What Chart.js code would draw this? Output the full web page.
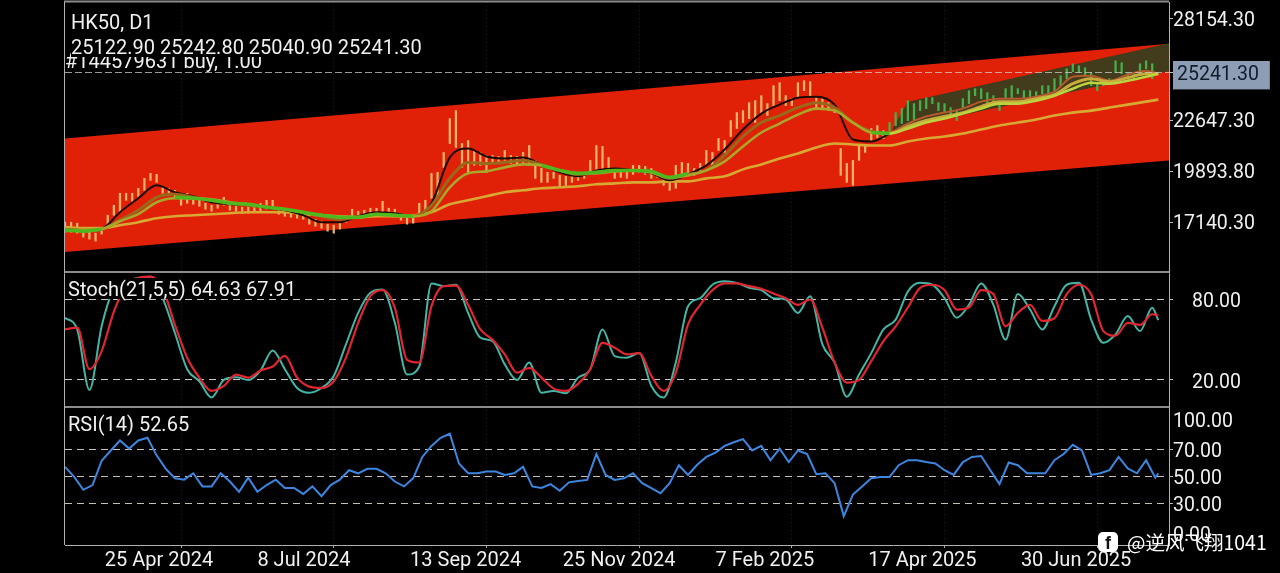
<!DOCTYPE html>
<html>
<head>
<meta charset="utf-8">
<title>HK50, D1</title>
<script src="https://cdn.jsdelivr.net/npm/chart.js@4"></script>
<style>
  html, body { margin: 0; background: #000; overflow: hidden; }
  #wrap { position: relative; width: 1280px; height: 573px; font-family: Roboto, sans-serif; color: #f0f0f0; }
  canvas { position: absolute; left: 0; top: 0; }
  .lbl { position: absolute; font-size: 20px; line-height: 23px; white-space: nowrap; }
  #mark { position: absolute; left: 1098px; top: 527px; display: flex; align-items: center; color: #fff; font-size: 19.5px; font-family: "Noto Sans CJK SC", Roboto, sans-serif; white-space: nowrap; }
  #mark b { width: 20px; height: 20px; border-radius: 5px; background: #fff; color: #111; font: bold 18px/23px "Liberation Sans", sans-serif; text-align: center; margin-right: 9px; overflow: hidden; }
</style>
</head>
<body>
<div id="wrap">
  <canvas id="chart" width="1280" height="573"></canvas>
  <div class="lbl" style="left:65px;top:50px">#144579631 buy, 1.00</div>
  <div class="lbl" style="left:71px;top:11px">HK50, D1</div>
  <div class="lbl" style="left:71px;top:36px;width:355px;height:21px;background:#000">25122.90 25242.80 25040.90 25241.30</div>
  <div class="lbl" style="left:65px;top:278px;width:233px;height:21px;background:#000;padding-left:3px;box-sizing:border-box">Stoch(21,5,5) 64.63 67.91</div>
  <div class="lbl" style="left:68px;top:413px">RSI(14) 52.65</div>
  <div id="mark"><b>f</b><span>@逆风飞翔1041</span></div>
</div>
<script>
const priceTicks = [28154.30, 25241.30, 22647.30, 19893.80, 17140.30];
const currentPrice = 25241.30;
const stochTicks = [80, 20];
const rsiTicks = [92.2, 70, 50, 30, 7.8];
const rsiTickLabels = ['100.00', '70.00', '50.00', '30.00', '0.00'];
const dateTickBars = [13, 63, 113, 163, 213, 263, 313];
const dateTickLabels = ['25 Apr 2024', '8 Jul 2024', '13 Sep 2024', '25 Nov 2024', '7 Feb 2025', '17 Apr 2025', '30 Jun 2025'];

// channels, [start bar, end bar]
const redBars = [0, 361.5];
const redUpper = [21674, 26804];
const redLower = [15518, 20486];
const darkBars = [271, 276, 361.5];
const darkUpper = [22214, 23672, 26831];
const darkLower = [22106, 22322, 25319];

const candleHigh = [17138,17138,17084,16598,16598,16544,16814,17516,18056,18704,18704,18704,18974,19514,19784,19730,19082,18974,18866,18596,
  18704,18434,18326,18164,18056,18326,18488,18056,18056,17948,18002,17948,18164,18326,18326,17894,17786,17678,17624,17570,
  17354,17300,17192,17030,16976,17138,17462,17840,17732,17786,17894,17894,18272,17894,17840,17570,17462,17462,18164,18326,
  19784,19838,20918,22754,23186,21404,21566,21026,20918,20756,20756,20702,21026,20756,20702,20918,21296,20486,20054,19838,
  19838,19676,19622,19676,19784,19838,20486,21296,21242,20648,20054,19946,19838,20216,20216,20162,20054,19838,19568,19298,
  20216,20378,20324,20054,20324,21026,20918,21674,21566,22646,23078,23186,23618,23726,23996,23564,24536,24698,23996,23834,
  24698,24806,24752,23888,23834,23618,23456,21134,20324,20486,21296,21296,22214,22376,22106,22538,23078,23294,23726,23564,
  23726,23888,23888,23618,23564,23348,23186,23834,24266,24374,24374,24158,23996,23564,24374,24536,24374,24266,24266,24212,
  24536,24536,24914,25076,25454,25724,25616,25508,25238,24698,24806,24914,25886,25778,25238,25238,25724,25886,25724];
const candleLow = [16598,16598,16544,16328,16220,16112,16490,17030,17516,17678,18326,18272,18542,18866,19406,19298,18704,18596,18488,18056,
  18164,18110,18002,17840,17732,17894,18056,17786,17732,17624,17624,17678,17678,17840,17894,17570,17462,17408,17354,17300,
  17030,16922,16814,16652,16544,16760,17138,17462,17408,17408,17516,17570,17624,17678,17570,17246,17030,17084,17570,17786,
  18434,18434,20108,21404,21188,20108,19838,20216,20216,19838,20378,20324,20486,20324,20270,20378,20216,19514,19298,19298,
  19514,19082,19082,19298,19406,19514,19784,19946,19838,19946,19514,19568,19514,19730,19838,19730,19514,19568,19136,18866,
  18974,19568,19676,19676,19784,20216,20216,21026,20918,21782,22214,22538,22754,22538,23024,22916,23456,23726,23456,23456,
  23888,24266,23888,23348,23294,23186,23078,19676,19298,19136,20486,20918,21566,21728,21674,21998,22376,22484,22646,22646,
  23186,23294,23564,23186,23078,22862,22646,23348,23564,23996,23834,23618,23510,23186,23834,23888,24104,23888,23726,23888,
  24104,24158,24266,24536,24914,25292,25238,25076,24536,24266,24536,24590,25238,25184,24914,24914,25346,25454,24914];

// moving averages, one value every 6 bars
const fastMA = [16760,16652,16760,17678,18434,19136,18758,18542,18218,18110,18056,17894,17786,17516,17138,17138,17462,17678,17624,17462,
  18164,20648,21134,20702,20594,20648,20270,19838,19622,19946,20054,19946,19784,19406,19730,20216,21080,22160,23024,23510,
  23888,23942,23510,21620,21512,21944,22484,22862,23078,23294,23672,23834,23834,23942,24212,25022,25076,24806,25130,25346,25184];
const midMA = [16760,16706,16760,17246,17786,18488,18650,18488,18326,18164,18056,17948,17840,17678,17462,17300,17408,17570,17516,17462,
  18056,19514,20378,20324,20378,20486,20270,19946,19730,19838,19946,19946,19838,19514,19730,19946,20756,21782,22538,22916,
  23348,23618,23348,22538,22052,21944,22322,22646,22862,23078,23402,23672,23672,23834,24050,24644,24914,24752,24968,25184,25184];
const slowMA = [16706,16706,16760,17192,17570,18218,18434,18434,18380,18218,18110,17948,17840,17678,17516,17408,17408,17570,17462,17462,
  17732,19028,19784,19892,20108,20270,20216,19946,19784,19784,19892,19946,19838,19568,19676,19946,20432,21242,21998,22484,
  22970,23294,23186,22538,21998,21944,22214,22538,22754,23024,23294,23564,23564,23726,23996,24374,24698,24644,24806,25022,25184];
const longMA = [16868,16814,16814,16976,17138,17354,17462,17516,17570,17624,17678,17678,17678,17570,17516,17462,17408,17462,17462,17516,
  17678,18110,18326,18542,18758,18866,18974,19028,19082,19190,19244,19298,19298,19352,19352,19514,19622,20000,20270,20594,
  20864,21188,21404,21350,21296,21296,21512,21674,21782,21944,22160,22376,22538,22700,22916,23078,23186,23348,23510,23672,23780];
const greenMA = [16706,16652,16760,null,null,null,18488,18434,18326,18164,18110,17948,17840,17678,17516,17408,17408,17570,17516,17462,
  null,null,null,null,null,null,20216,19946,19784,19838,19946,19946,19892,19568,19784,null,null,null,null,null,
  null,null,null,null,21998,21944,null,null,null,null,null,null,null,null,null,null,null,null,null,null,null];

// stochastic, one value every 4 bars plus the last bar
const stochK = [66.4,57.7,12.5,60,88,94,96,97,81,55,28,19,6.8,20,22,20,27,42,28,14,
  10.5,14,23,46.5,70,85,87.4,62.6,24,30,92,90,91,70,51.5,49,31.6,20,33,10.5,
  11.8,10,21.7,28,57.7,37.8,36.6,40,15.5,6.8,33,75,81,91,93.6,92.4,88.7,87,81,80,
  70,82.5,46.5,33,7.5,24,40,57.7,65,86,92.4,91,81,66.4,76,92,76,50,84,72.5,
  57.7,75,91,92.4,65,47.7,54,67.6,56.4,73.8,64.63];
const stochD = [57.7,59,28,41.5,71,90,96,97,88,61,36.6,21.7,11.8,15.5,24,21.7,27,30,38,21.7,
  15,14,19,36.6,62.6,82.5,87,73.8,35,33,75,90,90.4,76,57.7,50,39,25.4,29,21.7,
  13.5,11.8,17,28,47.7,44,39,40,23,11.8,25.4,61.4,76,87,92,92,90,88,84.5,81,
  76,80,59,33,18,20,34,49,60,74,88.7,91,87,72.5,74,87,84,60,70,76,
  64,66,84,91,84,56.4,53,62.6,61,69,67.91];

// RSI, one value every 3 bars plus the last bar
const rsiValues = [57.5,50,40.5,44,62,69.6,77,71,77,79,66,56,49,48,52.7,43,43,52.7,46.6,39,
  49.5,39,44,48,41.8,41.8,37.4,43,35.7,44,48,55,52.7,56,56,52.7,46.6,43,49,64.8,
  73,79,82,60,52.7,52.7,54,54,51.5,52.7,57.5,43,41.8,44.7,39.8,46,47,47.8,67,51.5,
  47.8,49,52.7,45.4,41.8,38,45.4,58.7,51.5,59,64.8,68,73,75.7,78,69.6,73,62.4,71,61,
  69.6,67,52,52.7,45.4,21,37,43,49,50,50,58.7,62.4,62.4,61,60,55,51.5,61,64.8,
  65.5,55,44.7,60.7,58.7,52.7,52.7,52.7,62.4,67,73.8,69.6,51.5,52.7,55,64.8,56.3,52.7,62.4,49.5,52.65];

const DARK_START = 270;
const LAST_BAR = 358;
const barsFor = (vals, step) => vals.map((_, i) => (i === vals.length - 1 ? LAST_BAR : i * step));
const pts = (xs, ys) => xs.map((x, i) => ({ x, y: ys[i] }));

// lines change tint where they cross the dark channel
const line = (label, xs, ys, axis, color, width, order, darkColor, smooth = true) => ({
  type: 'line', label, data: pts(xs, ys), yAxisID: axis, borderColor: color, borderWidth: width, order,
  pointRadius: 0, cubicInterpolationMode: smooth ? 'monotone' : 'default',
  segment: darkColor ? { borderColor: ctx => (ctx.p0.parsed.x >= DARK_START ? darkColor : undefined) } : undefined,
});
const band = (label, xs, ys, color, order, fill) => ({
  type: 'line', label, data: pts(xs, ys), yAxisID: 'yPrice', borderWidth: 0, pointRadius: 0,
  backgroundColor: color, fill, order,
});

const datasets = [
  band('Channel top', redBars, redUpper, '#e02108', 100, '+1'),
  band('Channel bottom', redBars, redLower, '#e02108', 100, false),
  band('Trend top', darkBars, darkUpper, '#423c1c', 90, '+1'),
  band('Trend bottom', darkBars, darkLower, '#423c1c', 90, false),
  {
    type: 'bar', label: 'HK50', yAxisID: 'yPrice', order: 50, barThickness: 1.6,
    data: candleHigh.map((h, i) => ({ x: i * 2, y: [candleLow[i], h] })),
    backgroundColor: ctx => (ctx.raw && ctx.raw.x >= DARK_START ? '#46b04a' : '#efb26a'),
  },
  line('MA long', barsFor(longMA, 6), longMA, 'yPrice', '#d9a833', 2.6, 40),
  line('MA fast', barsFor(fastMA, 6), fastMA, 'yPrice', '#1c0a06', 2, 30, '#b5592c'),
  line('MA mid', barsFor(midMA, 6), midMA, 'yPrice', '#98691b', 3, 25, '#c9aa3c'),
  line('MA slow', barsFor(slowMA, 6), slowMA, 'yPrice', '#a8a72a', 2.6, 20, '#bcd23e'),
  line('MA green', barsFor(greenMA, 6), greenMA, 'yPrice', '#4fb81f', 3.5, 15),
  line('Stoch K', barsFor(stochK, 4), stochK, 'yStoch', '#45b5a5', 2, 11),
  line('Stoch D', barsFor(stochD, 4), stochD, 'yStoch', '#e0262e', 2.2, 10),
  line('RSI', barsFor(rsiValues, 3), rsiValues, 'yRsi', '#3d86e0', 2, 10, null, false),
];

const tickFont = { family: 'Roboto', size: 19.5 };
const fixTicks = vals => axis => { axis.ticks = vals.map(value => ({ value })); };
const gutter = axis => { axis.width = 111; axis.paddingTop = 0; axis.paddingBottom = 0; };

// the broker draws its axis labels a little lower than Chart.js centres them
const nudgeLabels = {
  id: 'nudgeLabels',
  beforeDraw(chart) {
    [['yPrice', 2], ['yStoch', 3], ['yRsi', 2]].forEach(([id, dy]) => {
      const scale = chart.scales[id];
      scale.getLabelItems(chart.chartArea).forEach(item => {
        item.options.translation[1] += dy;
        if (item.options.backdrop) {
          item.options.backdrop.top += 1;
          item.options.translation[0] += 4;
        }
      });
    });
  },
};

// pane frame, same grey as the broker's separators
const frame = {
  id: 'frame',
  afterDatasetsDraw(chart) {
    const { ctx, chartArea: a, scales } = chart;
    ctx.save();
    ctx.strokeStyle = '#8c8c8c';
    ctx.lineWidth = 2;
    [a.top - 0.5, scales.yStoch.top, scales.yRsi.top].forEach(y => {
      ctx.beginPath(); ctx.moveTo(a.left - 1, y); ctx.lineTo(a.right, y); ctx.stroke();
    });
    ctx.lineWidth = 1;
    ctx.strokeStyle = '#b0b0b0';
    [a.left - 0.5, a.right + 0.5].forEach(x => {
      ctx.beginPath(); ctx.moveTo(x, a.top); ctx.lineTo(x, a.bottom); ctx.stroke();
    });
    ctx.restore();
  },
};

new Chart(document.getElementById('chart'), {
  type: 'line',
  data: { datasets },
  plugins: [frame, nudgeLabels],
  options: {
    responsive: false,
    devicePixelRatio: 1,
    animation: false,
    events: [],
    layout: { padding: { left: 65, top: 2, right: 0, bottom: 0 } },
    plugins: { legend: { display: false }, tooltip: { enabled: false } },
    scales: {
      x: {
        type: 'linear', min: 0, max: 361.5, offset: false,
        afterBuildTicks: fixTicks(dateTickBars),
        afterFit: axis => { axis.height = 28; axis.paddingLeft = 0; axis.paddingRight = 0; },
        grid: { color: '#1c1c1c', tickColor: '#aaa', tickLength: 3 },
        border: { color: '#b0b0b0', dash: [1, 3] },
        ticks: {
          autoSkip: false, maxRotation: 0, align: 'start', padding: 1, color: '#f0f0f0', font: { family: 'Roboto', size: 20 },
          callback: (v, i) => dateTickLabels[i],
        },
      },
      yPrice: {
        type: 'linear', position: 'right', stack: 'panes', stackWeight: 270, weight: 1,
        min: 14438, max: 29072,
        afterBuildTicks: fixTicks(priceTicks), afterFit: gutter,
        grid: {
          z: 1,
          color: ctx => (ctx.tick && ctx.tick.value === currentPrice ? 'rgba(205,205,205,0.75)' : 'transparent'),
          tickColor: '#bbb', tickLength: 4,
        },
        border: { display: false, dash: [7, 3] },
        ticks: {
          autoSkip: false, padding: 0, font: tickFont,
          color: ctx => (ctx.tick.value === currentPrice ? '#111c2c' : '#f0f0f0'),
          showLabelBackdrop: ctx => ctx.tick.value === currentPrice,
          backdropColor: '#8d9db4',
          backdropPadding: { top: 3, bottom: 2, left: 4, right: 11 },
          callback: v => v.toFixed(2),
        },
      },
      yStoch: {
        type: 'linear', position: 'right', stack: 'panes', stackWeight: 135, weight: 2,
        min: -0.2, max: 100.5,
        afterBuildTicks: fixTicks(stochTicks), afterFit: gutter,
        grid: { color: '#c8c8c8', tickColor: '#bbb', tickLength: 4 },
        border: { display: false, dash: [7, 5] },
        ticks: { autoSkip: false, padding: 19, color: '#f0f0f0', font: tickFont, callback: v => v.toFixed(2) },
      },
      yRsi: {
        type: 'linear', position: 'right', stack: 'panes', stackWeight: 138, weight: 3,
        min: -0.4, max: 101.8,
        afterBuildTicks: fixTicks(rsiTicks), afterFit: gutter,
        grid: {
          color: ctx => (ctx.tick && [70, 50, 30].includes(ctx.tick.value) ? '#c8c0b0' : 'transparent'),
          tickColor: ctx => (ctx.tick && [70, 50, 30].includes(ctx.tick.value) ? '#bbb' : 'transparent'),
          tickLength: 4,
        },
        border: { display: false, dash: [7, 5] },
        ticks: { autoSkip: false, padding: 0, color: '#f0f0f0', font: tickFont, callback: (v, i) => rsiTickLabels[i] },
      },
    },
  },
});
</script>
</body>
</html>
